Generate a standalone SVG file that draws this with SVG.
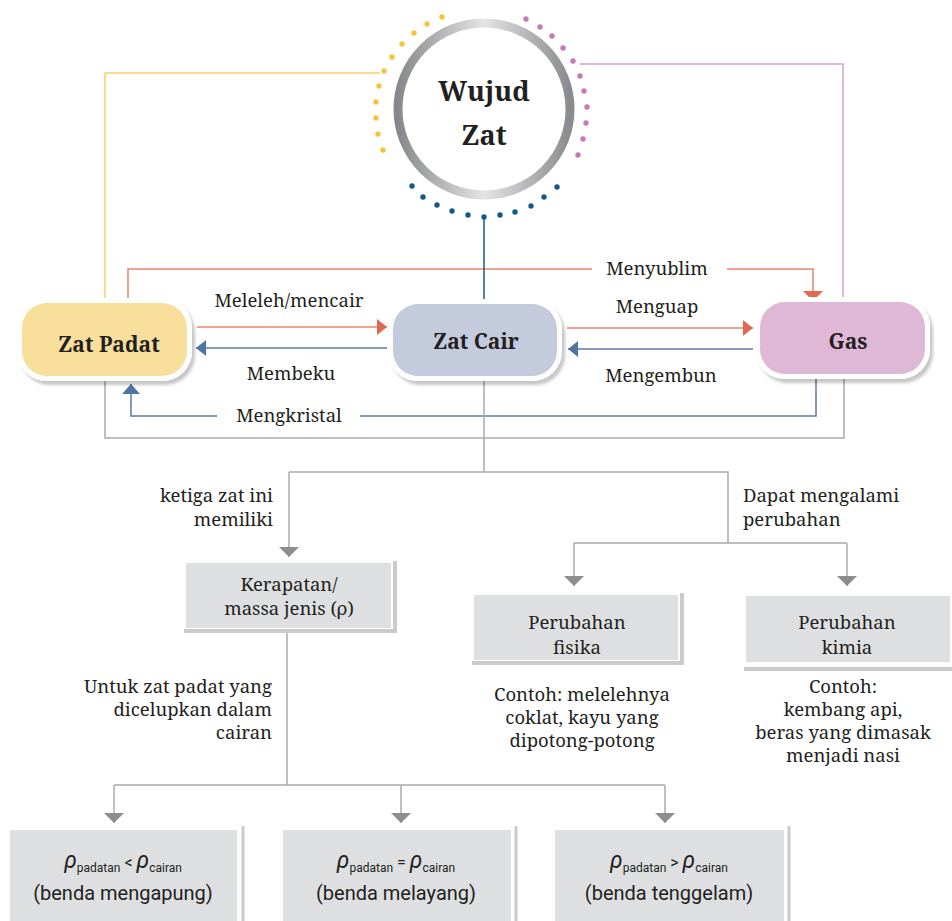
<svg xmlns="http://www.w3.org/2000/svg" width="952" height="921" viewBox="0 0 952 921">
<defs>
<style>
text{font-family:"Noto Serif","DejaVu Serif",serif;fill:#231f20;font-size:18.5px}
.b{font-weight:bold}
.t{font-size:21px;font-weight:bold}
.m{text-anchor:middle}
.e{text-anchor:end}
.s{font-family:Roboto,"Liberation Sans",sans-serif;font-size:20px}
.c{fill:none;stroke-width:1.5}
.red{stroke:#e8846f}
.blu{stroke:#5a7ca5}
.gry{stroke:#ababab}
.box{fill:#dedfe0}
.shd{fill:none;stroke:#cbcbcb;stroke-width:4}
.halo{fill:#fff;filter:url(#ds)}
.yd{fill:#f4c53c}.pd{fill:#c879b8}.bd{fill:#0e5a8e}
</style>
<filter id="ds" x="-10%" y="-10%" width="125%" height="130%"><feDropShadow dx="3" dy="4" stdDeviation="1.5" flood-color="#000" flood-opacity="0.22"/></filter>
<linearGradient id="ring" x1="0" y1="0" x2="1" y2="0">
<stop offset="0" stop-color="#87888b"/><stop offset="0.5" stop-color="#e4e4e5"/><stop offset="1" stop-color="#8a8b8e"/>
</linearGradient>
<marker id="ar" viewBox="0 0 10 16" refX="10" refY="8" markerWidth="10" markerHeight="16" orient="auto" markerUnits="userSpaceOnUse"><path d="M0,0L10,8L0,16z" fill="#e06a50"/></marker>
<marker id="ab" viewBox="0 0 10 16" refX="10" refY="8" markerWidth="10" markerHeight="16" orient="auto" markerUnits="userSpaceOnUse"><path d="M0,0L10,8L0,16z" fill="#4f74a0"/></marker>
<marker id="ab2" viewBox="0 0 10 18" refX="10" refY="9" markerWidth="10" markerHeight="18" orient="auto" markerUnits="userSpaceOnUse"><path d="M0,0L10,9L0,18z" fill="#4f74a0"/></marker>
<marker id="ar2" viewBox="0 0 10 20" refX="10" refY="10" markerWidth="10" markerHeight="20" orient="auto" markerUnits="userSpaceOnUse"><path d="M0,0L10,10L0,20z" fill="#e06a50"/></marker>
<marker id="ag" viewBox="0 0 10 20" refX="10" refY="10" markerWidth="10" markerHeight="20" orient="auto" markerUnits="userSpaceOnUse"><path d="M0,0L10,10L0,20z" fill="#8e8e8e"/></marker>
</defs>
<rect width="952" height="921" fill="#fff"/>

<g id="connectors">
<polyline class="c" stroke="#f6d06a" points="105,302 105,73 380,73"/>
<polyline class="c" stroke="#d79ece" points="580,64 843,64 843,302"/>
<path class="c red" d="M128,303V269H592"/>
<path class="c red" d="M727,269H813V301" marker-end="url(#ar2)"/>
<path class="c red" d="M197,327H387" marker-end="url(#ar)"/>
<path class="c blu" d="M387,348H196" marker-end="url(#ab)"/>
<path class="c red" d="M567,328H753" marker-end="url(#ar)"/>
<path class="c blu" d="M753,349H568" marker-end="url(#ab)"/>
<path class="c blu" d="M816,374V416H360"/>
<path class="c blu" d="M217,416H131V384" marker-end="url(#ab2)"/>
<path class="c gry" d="M105,376V438H844V374"/>
<path class="c" stroke="#1c5b8c" d="M484,217V304"/>
<path class="c gry" d="M484,376V472M289,472H728V543M574,543H847"/>
<path class="c gry" d="M289,472V557" marker-end="url(#ag)"/>
<path class="c gry" d="M574,543V586" marker-end="url(#ag)"/>
<path class="c gry" d="M847,543V586" marker-end="url(#ag)"/>
<path class="c gry" d="M287,632V785M114,785H665"/>
<path class="c gry" d="M114,785V823" marker-end="url(#ag)"/>
<path class="c gry" d="M401,785V823" marker-end="url(#ag)"/>
<path class="c gry" d="M665,785V823" marker-end="url(#ag)"/>
<text class="m" x="657" y="275">Menyublim</text>
<text class="m" x="289" y="307">Meleleh/mencair</text>
<text class="m" x="291" y="380">Membeku</text>
<text class="m" x="657" y="313">Menguap</text>
<text class="m" x="661" y="382">Mengembun</text>
<text class="m" x="289" y="422">Mengkristal</text>
<text class="e" x="273" y="502">ketiga zat ini</text>
<text class="e" x="273" y="526">memiliki</text>
<text x="743" y="502">Dapat mengalami</text>
<text x="743" y="526">perubahan</text>
<text class="e" x="272" y="693">Untuk zat padat yang</text>
<text class="e" x="272" y="716">dicelupkan dalam</text>
<text class="e" x="272" y="739">cairan</text>
</g>

<g id="wujud-zat">
<g class="yd">
<circle cx="442" cy="17" r="2.7"/><circle cx="427" cy="24" r="2.7"/><circle cx="414" cy="33" r="2.7"/><circle cx="402" cy="44" r="2.7"/><circle cx="392" cy="57" r="2.7"/><circle cx="384" cy="71" r="2.7"/><circle cx="379" cy="86" r="2.7"/><circle cx="376" cy="102" r="2.7"/><circle cx="376" cy="118" r="2.7"/><circle cx="378" cy="134" r="2.7"/><circle cx="383" cy="150" r="2.7"/>
</g>
<g class="pd">
<circle cx="526" cy="19" r="2.7"/><circle cx="540" cy="27" r="2.7"/><circle cx="552" cy="36" r="2.7"/><circle cx="563" cy="48" r="2.7"/><circle cx="573" cy="61" r="2.7"/><circle cx="580" cy="76" r="2.7"/><circle cx="584" cy="91" r="2.7"/><circle cx="587" cy="107" r="2.7"/><circle cx="586" cy="123" r="2.7"/><circle cx="583" cy="139" r="2.7"/><circle cx="578" cy="155" r="2.7"/>
</g>
<g class="bd">
<circle cx="412" cy="186" r="2.7"/><circle cx="423" cy="197" r="2.7"/><circle cx="437" cy="205" r="2.7"/><circle cx="452" cy="211" r="2.7"/><circle cx="468" cy="215" r="2.7"/><circle cx="484" cy="217" r="2.7"/><circle cx="500" cy="215" r="2.7"/><circle cx="515" cy="212" r="2.7"/><circle cx="531" cy="206" r="2.7"/><circle cx="544" cy="197" r="2.7"/><circle cx="557" cy="187" r="2.7"/>
</g>
<circle cx="484" cy="109" r="86" fill="#fff" stroke="url(#ring)" stroke-width="9"/>
<text class="b m" x="484" y="101" style="font-size:27px">Wujud</text>
<text class="b m" x="484" y="145" style="font-size:27px">Zat</text>
</g>

<g id="zat-padat">
<rect class="halo" x="17" y="298" width="175" height="83" rx="30"/>
<rect x="22" y="303" width="165" height="73" rx="25" fill="#f8df9b"/>
<text class="t m" x="109" y="352">Zat Padat</text>
</g>
<g id="zat-cair">
<rect class="halo" x="388" y="299" width="174" height="82" rx="30"/>
<rect x="393" y="304" width="164" height="72" rx="25" fill="#c3cbdd"/>
<text class="t m" x="476" y="349">Zat Cair</text>
</g>
<g id="gas">
<rect class="halo" x="755" y="297" width="175" height="82" rx="30"/>
<rect x="760" y="302" width="165" height="72" rx="25" fill="#dfb8d7"/>
<text class="t m" x="848" y="349">Gas</text>
</g>

<g id="kerapatan">
<polyline class="shd" points="395,561 395,631 184,631"/>
<rect class="box" x="186" y="563" width="205" height="65"/>
<text class="m" x="289" y="591">Kerapatan/</text>
<text class="m" x="289" y="615">massa jenis (ρ)</text>
</g>
<g id="fisika">
<polyline class="shd" points="682,593 682,663 472,663"/>
<rect class="box" x="474" y="595" width="204" height="65"/>
<text class="m" x="577" y="629">Perubahan</text>
<text class="m" x="577" y="654">fisika</text>
<text class="m" x="582" y="701">Contoh: melelehnya</text>
<text class="m" x="582" y="724">coklat, kayu yang</text>
<text class="m" x="582" y="747">dipotong-potong</text>
</g>
<g id="kimia">
<polyline class="shd" points="953,669 744,669"/>
<rect class="box" x="746" y="596" width="204" height="66"/>
<text class="m" x="847" y="629">Perubahan</text>
<text class="m" x="847" y="654">kimia</text>
<text class="m" x="843" y="693">Contoh:</text>
<text class="m" x="843" y="716">kembang api,</text>
<text class="m" x="843" y="739">beras yang dimasak</text>
<text class="m" x="843" y="762">menjadi nasi</text>
</g>

<g id="mengapung">
<line x1="243" y1="826" x2="243" y2="921" stroke="#cbcbcb" stroke-width="3"/>
<rect class="box" x="10" y="830" width="227" height="91"/>
<text class="s m" x="123" y="868"><tspan font-style="italic" font-size="23">ρ</tspan><tspan font-size="12" dy="4">padatan</tspan><tspan dy="-4" font-size="16"> &lt; </tspan><tspan font-style="italic" font-size="23">ρ</tspan><tspan font-size="12" dy="4">cairan</tspan></text>
<text class="s m" x="123" y="900">(benda mengapung)</text>
</g>
<g id="melayang">
<line x1="516" y1="826" x2="516" y2="921" stroke="#cbcbcb" stroke-width="3"/>
<rect class="box" x="283" y="830" width="228" height="91"/>
<text class="s m" x="396" y="868"><tspan font-style="italic" font-size="23">ρ</tspan><tspan font-size="12" dy="4">padatan</tspan><tspan dy="-4" font-size="16"> = </tspan><tspan font-style="italic" font-size="23">ρ</tspan><tspan font-size="12" dy="4">cairan</tspan></text>
<text class="s m" x="396" y="900">(benda melayang)</text>
</g>
<g id="tenggelam">
<line x1="789" y1="826" x2="789" y2="921" stroke="#cbcbcb" stroke-width="3"/>
<rect class="box" x="555" y="830" width="229" height="91"/>
<text class="s m" x="669" y="868"><tspan font-style="italic" font-size="23">ρ</tspan><tspan font-size="12" dy="4">padatan</tspan><tspan dy="-4" font-size="16"> &gt; </tspan><tspan font-style="italic" font-size="23">ρ</tspan><tspan font-size="12" dy="4">cairan</tspan></text>
<text class="s m" x="669" y="900">(benda tenggelam)</text>
</g>
</svg>
